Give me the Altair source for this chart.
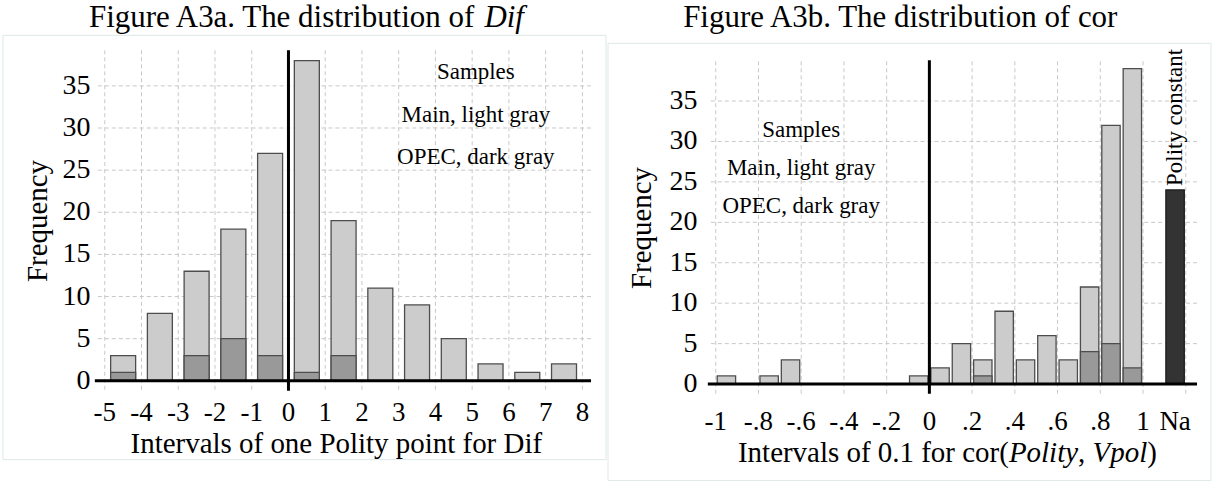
import altair as alt
import pandas as pd

FONT = "Liberation Serif"

# ---------------- data ----------------
# Figure A3a: distribution of Dif (interval start, main-sample count, OPEC count)
dif_start = [-5, -4, -3, -2, -1, 0, 1, 2, 3, 4, 5, 6, 7]
dif_main = [3, 8, 13, 18, 27, 38, 19, 11, 9, 5, 2, 1, 2]
dif_opec = [1, 0, 3, 5, 3, 1, 3, 0, 0, 0, 0, 0, 0]
dif_ticks = [-5, -4, -3, -2, -1, 0, 1, 2, 3, 4, 5, 6, 7, 8]
dif_tick_labels = ["-5", "-4", "-3", "-2", "-1", "0", "1", "2", "3", "4", "5", "6", "7", "8"]

# Figure A3b: distribution of cor(Polity, Vpol)
cor_start = [-1.0, -0.9, -0.8, -0.7, -0.6, -0.5, -0.4, -0.3, -0.2, -0.1,
             0.0, 0.1, 0.2, 0.3, 0.4, 0.5, 0.6, 0.7, 0.8, 0.9]
cor_main = [1, 0, 1, 3, 0, 0, 0, 0, 0, 1, 2, 5, 3, 9, 3, 6, 3, 12, 32, 39]
cor_opec = [0, 0, 0, 0, 0, 0, 0, 0, 0, 0, 0, 0, 1, 0, 0, 0, 0, 4, 5, 2]
cor_na_pos = [1.15]
cor_na_count = [24]
cor_ticks = [-1.0, -0.8, -0.6, -0.4, -0.2, 0.0, 0.2, 0.4, 0.6, 0.8, 1.0, 1.15]
cor_tick_labels = ["-1", "-.8", "-.6", "-.4", "-.2", "0", ".2", ".4", ".6", ".8", "1", "Na"]
cor_grid = [-1.0, -0.8, -0.6, -0.4, -0.2, 0.0, 0.2, 0.4, 0.6, 0.8, 1.0, 1.2]
freq_ticks = [0, 5, 10, 15, 20, 25, 30, 35]
freq_tick_labels = ["0", "5", "10", "15", "20", "25", "30", "35"]

LIGHT = "#cccccc"
OPEC = "#999999"
NA_FILL = "#333333"
EDGE = "#4d4d4d"
GRID = "#c8c8c8"
BORDER = "#dde8e8"

TITLE_SIZE = 31
AXTITLE_SIZE = 29
YTICK_SIZE = 28
XTICK_SIZE = 27
NOTE_SIZE = 23

# Times / Liberation Serif advance widths (per 1000 em) for laying out mixed-style text
REG = {' ': 250, '(': 333, ')': 333, ',': 250, '.': 250, '0': 500, '1': 500, '3': 500,
       'A': 722, 'D': 722, 'F': 556, 'I': 333, 'P': 556, 'T': 611, 'V': 722,
       'a': 444, 'b': 500, 'c': 444, 'd': 500, 'e': 444, 'f': 333, 'g': 500, 'h': 500,
       'i': 278, 'l': 278, 'n': 500, 'o': 500, 'p': 500, 'r': 333, 's': 389, 't': 278,
       'u': 500, 'v': 500, 'y': 500}
ITA = {' ': 250, 'P': 611, 'V': 611, 'D': 722, 'o': 500, 'l': 278, 'i': 278, 't': 278,
       'y': 444, 'p': 500, 'f': 278}

one = pd.DataFrame({"k": [0]})
NOAX = None


def seg_width(s, italic, size):
    tbl = ITA if italic else REG
    return sum(tbl.get(c, 500) for c in s) * size / 1000.0


def text_line(segments, x_center, y, size):
    total = sum(seg_width(t, it, size) for t, it in segments)
    cursor = x_center - total / 2.0
    layers = []
    for t, it in segments:
        lead = len(t) - len(t.lstrip(' '))
        x0 = cursor + seg_width(' ' * lead, it, size)
        layers.append(
            alt.Chart(one).mark_text(
                text=t.strip(' '), font=FONT, fontSize=size,
                fontStyle='italic' if it else 'normal',
                align='left', baseline='alphabetic', color='black'
            ).encode(x=alt.value(x0), y=alt.value(y))
        )
        cursor += seg_width(t, it, size)
    return layers


def vtext(txt, x, y, size):
    return alt.Chart(one).mark_text(
        text=txt, font=FONT, fontSize=size, angle=270, align='center',
        baseline='middle', color='black'
    ).encode(x=alt.value(x), y=alt.value(y))


def bounds_box(x0, x1, y0, y1):
    # invisible rectangle that fixes the panel's outer extent
    return alt.Chart(one).mark_rect(opacity=0).encode(
        x=alt.value(x0), x2=alt.value(x1), y=alt.value(y0), y2=alt.value(y1))


def border_box(x0, x1, y0, y1):
    return alt.Chart(one).mark_rect(filled=False, stroke=BORDER, strokeWidth=1).encode(
        x=alt.value(x0), x2=alt.value(x1), y=alt.value(y0), y2=alt.value(y1))


def note(txt, xd, yd, xs, ys, size=NOTE_SIZE):
    return alt.Chart(one).mark_text(
        text=txt, font=FONT, fontSize=size, align='center', baseline='alphabetic',
        color='black').encode(x=alt.XDatum(xd, scale=xs, axis=NOAX),
                              y=alt.YDatum(yd, scale=ys, axis=NOAX))


def hgrid(ticks, ys):
    return alt.Chart(pd.DataFrame({"v": ticks})).mark_rule(
        color=GRID, strokeDash=[4, 3], strokeWidth=1).encode(
        y=alt.Y("v:Q", scale=ys, axis=NOAX))


def vgrid(ticks, xs, ys=None, y0=None, y1=None):
    enc = dict(x=alt.X("v:Q", scale=xs, axis=NOAX))
    if ys is not None:
        enc["y"] = alt.YDatum(y0, scale=ys, axis=NOAX)
        enc["y2"] = alt.Y2Datum(y1)
    return alt.Chart(pd.DataFrame({"v": ticks})).mark_rule(
        color=GRID, strokeDash=[4, 3], strokeWidth=1).encode(**enc)


def ylabels(ticks, labels, ys, pad, size=YTICK_SIZE):
    return alt.Chart(pd.DataFrame({"v": ticks, "t": labels})).mark_text(
        font=FONT, fontSize=size, align='right', baseline='middle', color='black').encode(
        x=alt.value(-pad), y=alt.Y("v:Q", scale=ys, axis=NOAX), text="t:N")


def xlabels(ticks, labels, xs, ybase, size=XTICK_SIZE):
    return alt.Chart(pd.DataFrame({"v": ticks, "t": labels})).mark_text(
        font=FONT, fontSize=size, align='center', baseline='alphabetic', color='black').encode(
        x=alt.X("v:Q", scale=xs, axis=NOAX), y=alt.value(ybase), text="t:N")


# ---------------- panel A ----------------
WA, HA = 497, 341
xa = alt.Scale(domain=[-5.27, 8.235], nice=False, zero=False)
ya = alt.Scale(domain=[-1.18, 39.22], nice=False, zero=False)

dfa = pd.DataFrame({"start": dif_start, "main": dif_main, "opec": dif_opec})
basea = alt.Chart(dfa).transform_calculate(lo="datum.start + 0.16", hi="datum.start + 0.84")

main_a = basea.mark_bar(color=LIGHT, stroke=EDGE, strokeWidth=1.3).encode(
    x=alt.X("lo:Q", scale=xa, axis=NOAX), x2="hi:Q",
    y=alt.Y("main:Q", scale=ya, axis=NOAX), y2=alt.Y2Datum(0))
opec_a = basea.mark_bar(color=OPEC, stroke=EDGE, strokeWidth=1.3).encode(
    x=alt.X("lo:Q", scale=xa, axis=NOAX), x2="hi:Q",
    y=alt.Y("opec:Q", scale=ya, axis=NOAX), y2=alt.Y2Datum(0))
base_a = alt.Chart(one).mark_rule(color="black", strokeWidth=3).encode(
    y=alt.YDatum(0, scale=ya, axis=NOAX))
zero_a = alt.Chart(one).mark_rule(color="black", strokeWidth=3).encode(
    x=alt.XDatum(0, scale=xa, axis=NOAX))

notes_a = [note("Samples", 5.1, 35.8, xa, ya),
           note("Main, light gray", 5.1, 30.7, xa, ya),
           note("OPEC, dark gray", 5.1, 25.7, xa, ya)]

panel_a = alt.layer(
    bounds_box(-95, 512, -50, 431),
    border_box(-92, 512, -15, 410),
    hgrid(freq_ticks, ya),
    vgrid(dif_ticks, xa),
    main_a, opec_a, base_a, zero_a,
    ylabels(freq_ticks, freq_tick_labels, ya, 4.3),
    xlabels(dif_ticks, dif_tick_labels, xa, HA + 30),
    *notes_a,
    *text_line([("Figure A3a. The distribution of ", False), ("Dif", True)], 212, -23.3, TITLE_SIZE),
    *text_line([("Intervals of one Polity point for Dif", False)], 242, 403.5, AXTITLE_SIZE),
    vtext("Frequency", -57, 171, AXTITLE_SIZE),
).properties(width=WA, height=HA)

# ---------------- panel B ----------------
WB, HB = 490, 344
xb = alt.Scale(domain=[-1.037, 1.2527], nice=False, zero=False)
yb = alt.Scale(domain=[-1.2, 41.27], nice=False, zero=False)

dfb = pd.DataFrame({"start": cor_start, "main": cor_main, "opec": cor_opec})
baseb = alt.Chart(dfb).transform_calculate(lo="datum.start + 0.007", hi="datum.start + 0.093")

main_b = baseb.mark_bar(color=LIGHT, stroke=EDGE, strokeWidth=1.3).encode(
    x=alt.X("lo:Q", scale=xb, axis=NOAX), x2="hi:Q",
    y=alt.Y("main:Q", scale=yb, axis=NOAX), y2=alt.Y2Datum(0))
opec_b = baseb.mark_bar(color=OPEC, stroke=EDGE, strokeWidth=1.3).encode(
    x=alt.X("lo:Q", scale=xb, axis=NOAX), x2="hi:Q",
    y=alt.Y("opec:Q", scale=yb, axis=NOAX), y2=alt.Y2Datum(0))

dfn = pd.DataFrame({"pos": cor_na_pos, "count": cor_na_count})
na_b = alt.Chart(dfn).transform_calculate(
    lo="datum.pos - 0.043", hi="datum.pos + 0.043").mark_bar(
    color=NA_FILL, stroke="#1a1a1a", strokeWidth=1.3).encode(
    x=alt.X("lo:Q", scale=xb, axis=NOAX), x2="hi:Q",
    y=alt.Y("count:Q", scale=yb, axis=NOAX), y2=alt.Y2Datum(0))
polity_txt = alt.Chart(dfn).mark_text(
    text="Polity constant", font=FONT, fontSize=NOTE_SIZE, angle=270, align='left',
    baseline='middle', dx=4, color='black').encode(
    x=alt.X("pos:Q", scale=xb, axis=NOAX), y=alt.Y("count:Q", scale=yb, axis=NOAX))

base_b = alt.Chart(one).mark_rule(color="black", strokeWidth=3).encode(
    y=alt.YDatum(0, scale=yb, axis=NOAX))
zero_b = alt.Chart(one).mark_rule(color="black", strokeWidth=3).encode(
    x=alt.XDatum(0, scale=xb, axis=NOAX),
    y=alt.YDatum(-1.2, scale=yb, axis=NOAX), y2=alt.Y2Datum(40.04))

notes_b = [note("Samples", -0.6, 30.6, xb, yb),
           note("Main, light gray", -0.6, 25.8, xb, yb),
           note("OPEC, dark gray", -0.6, 21.2, xb, yb)]

panel_b = alt.layer(
    bounds_box(-100, 505, -50, 431),
    border_box(-100, 504, -7, 431),
    hgrid(freq_ticks, yb),
    vgrid(cor_grid, xb, yb, -1.2, 40.04),
    main_b, opec_b, na_b, base_b, zero_b,
    ylabels(freq_ticks, freq_tick_labels, yb, 10.3),
    xlabels(cor_ticks, cor_tick_labels, xb, HB + 36),
    polity_txt,
    *notes_b,
    *text_line([("Figure A3b. The distribution of cor", False)], 194, -23.3, TITLE_SIZE),
    *text_line([("Intervals of 0.1 for cor(", False), ("Polity", True), (", ", False),
                ("Vpol", True), (")", False)], 240, 412.5, AXTITLE_SIZE),
    vtext("Frequency", -66, 178, AXTITLE_SIZE),
).properties(width=WB, height=HB)

chart = alt.hconcat(panel_a, panel_b, spacing=0).properties(
    padding=0, background="white"
).configure_view(stroke=None)

chart.save("out.html", embed_options={"renderer": "svg", "actions": False})
